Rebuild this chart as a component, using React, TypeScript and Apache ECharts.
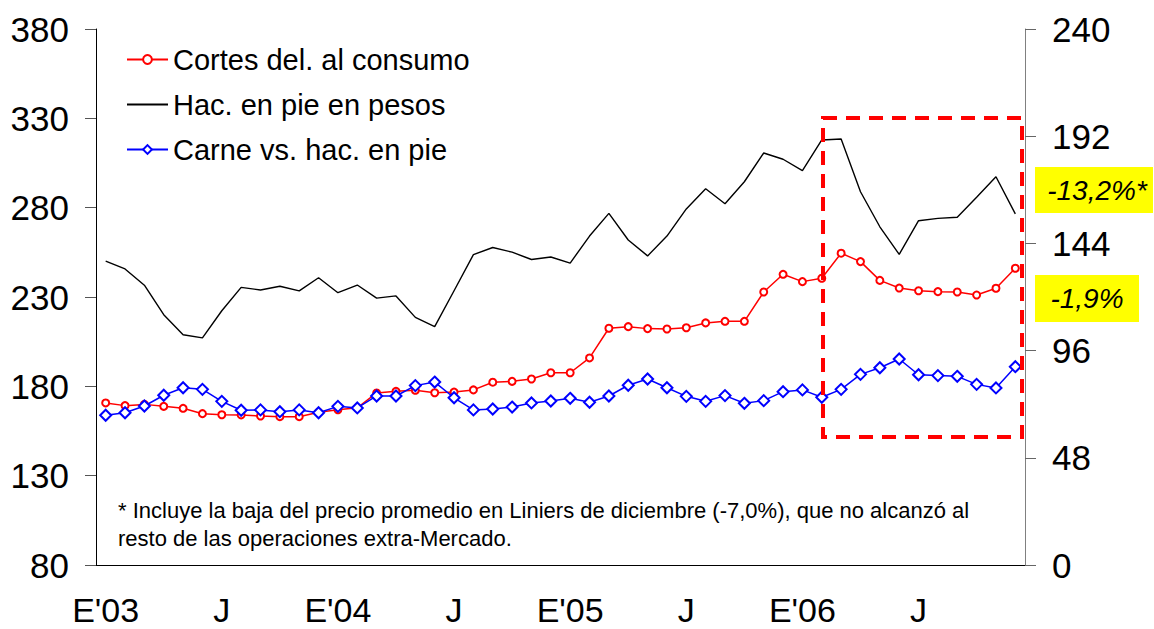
import React, { useEffect, useRef } from "react";
import * as echarts from "echarts";

const years = ["03", "04", "05", "06"];
const monthInitials = ["E", "F", "M", "A", "M", "J", "J", "A", "S", "O", "N", "D"];
const categories: string[] = [];
years.forEach((y) =>
  monthInitials.forEach((m, i) => categories.push(i === 0 ? `E'${y}` : m))
);

const cortes = [
  170.7, 169.2, 169.9, 168.8, 167.7, 164.7, 164.1, 164.0, 163.4, 163.0, 163.0, 165.5,
  166.9, 168.0, 176.3, 177.2, 177.8, 176.4, 176.8, 178.0, 182.3, 182.8, 184.1, 187.6,
  187.6, 195.9, 212.5, 213.4, 212.3, 212.1, 212.8, 215.5, 216.4, 216.4, 232.8, 242.7,
  238.6, 240.5, 254.5, 249.8, 239.3, 235.0, 233.5, 233.0, 232.8, 231.1, 234.9, 246.1,
];
const hacienda = [
  250.1, 245.7, 236.6, 220.1, 208.9, 207.1, 222.3, 235.4, 233.9, 236.0, 233.4, 240.8,
  232.4, 236.7, 229.4, 230.6, 218.6, 213.4, 233.5, 253.7, 257.7, 255.1, 251.0, 252.4,
  249.0, 264.1, 276.8, 261.9, 253.0, 264.1, 279.3, 290.6, 282.2, 294.5, 310.6, 307.1,
  300.7, 317.9, 318.4, 288.9, 269.3, 253.9, 272.7, 274.0, 274.6, 285.8, 297.3, 276.5,
];
const carneVsHac = [
  163.8, 165.2, 169.0, 175.0, 179.2, 178.3, 171.6, 166.6, 166.8, 165.8, 166.8, 165.2,
  168.8, 167.9, 174.6, 174.6, 180.4, 182.4, 173.6, 166.8, 167.3, 168.4, 170.7, 171.8,
  173.3, 171.1, 174.6, 180.6, 184.1, 179.2, 174.4, 171.6, 174.8, 170.5, 172.0, 177.0,
  178.0, 173.9, 178.3, 186.7, 190.4, 195.3, 186.5, 186.0, 185.6, 181.1, 179.1, 191.0,
];

const seriesNames = ["Cortes del. al consumo", "Hac. en pie en pesos", "Carne vs. hac. en pie"];
const badgeTexts = ["-13,2%*", "-1,9%"];
const footnoteLines = [
  "* Incluye la baja del precio promedio en Liniers de diciembre (-7,0%), que no alcanzó al",
  "resto de las operaciones extra-Mercado.",
];

const FONT = "'Liberation Sans', Arial, Helvetica, sans-serif";

export default function App() {
  const ref = useRef<HTMLDivElement>(null);
  useEffect(() => {
    document.body.style.margin = "0";
    if (!ref.current) return;
    const chart = echarts.init(ref.current, undefined, { renderer: "svg" });
    chart.setOption({
      animation: false,
      backgroundColor: "#ffffff",
      textStyle: { fontFamily: FONT },
      grid: { left: 96, right: 129, top: 29, bottom: 64 },
      legend: {
        orient: "vertical",
        left: 121,
        top: 40,
        itemWidth: 41,
        itemHeight: 11,
        itemGap: 16,
        textStyle: { fontSize: 29, color: "#000", fontFamily: FONT },
        data: [
          { name: seriesNames[0] },
          { name: seriesNames[1], itemStyle: { opacity: 0 } },
          { name: seriesNames[2] },
        ],
      },
      xAxis: {
        type: "category",
        data: categories,
        boundaryGap: true,
        axisLine: { lineStyle: { color: "#000", width: 1 } },
        axisTick: { interval: 2, length: 11, lineStyle: { color: "#000" } },
        axisLabel: {
          interval: 5,
          fontSize: 34,
          lineHeight: 30,
          color: "#000",
          margin: 30,
          fontFamily: FONT,
        },
        splitLine: { show: false },
      },
      yAxis: [
        {
          type: "value",
          min: 80,
          max: 380,
          interval: 50,
          position: "left",
          axisLine: { show: true, lineStyle: { color: "#000", width: 1 } },
          axisTick: { show: true, length: 11, lineStyle: { color: "#555" } },
          axisLabel: { fontSize: 35, color: "#000", margin: 27, fontFamily: FONT },
          splitLine: { show: false },
        },
        {
          type: "value",
          min: 0,
          max: 240,
          interval: 48,
          position: "right",
          axisLine: { show: true, lineStyle: { color: "#808080", width: 1 } },
          axisTick: { show: true, length: 11, lineStyle: { color: "#666" } },
          axisLabel: { fontSize: 35, color: "#000", margin: 27, fontFamily: FONT },
          splitLine: { show: false },
        },
      ],
      series: [
        {
          name: seriesNames[0],
          type: "line",
          data: cortes,
          yAxisIndex: 0,
          symbol: "emptyCircle",
          symbolSize: 7,
          lineStyle: { color: "#ff0000", width: 1.5 },
          itemStyle: { color: "#ff0000", borderWidth: 1.5 },
          z: 3,
        },
        {
          name: seriesNames[1],
          type: "line",
          data: hacienda,
          yAxisIndex: 0,
          symbol: "none",
          lineStyle: { color: "#000000", width: 1.4 },
          itemStyle: { color: "#000000" },
          z: 2,
        },
        {
          name: seriesNames[2],
          type: "line",
          data: carneVsHac,
          yAxisIndex: 0,
          symbol: "emptyDiamond",
          symbolSize: 11,
          lineStyle: { color: "#0000ff", width: 1.5 },
          itemStyle: { color: "#0000ff", borderWidth: 1.5 },
          z: 4,
        },
      ],
      graphic: [
        {
          type: "rect",
          shape: { x: 823, y: 118, width: 199, height: 319 },
          style: { fill: "none", stroke: "#ff0000", lineWidth: 4, lineDash: [14, 9] },
          z: 10,
        },
        {
          type: "rect",
          shape: { x: 1035, y: 167, width: 118, height: 46 },
          style: { fill: "#ffff00" },
          z: 10,
        },
        {
          type: "text",
          x: 1097,
          y: 190,
          style: {
            text: badgeTexts[0],
            fontSize: 28,
            fontStyle: "italic",
            fontFamily: FONT,
            fill: "#000",
            align: "center",
            verticalAlign: "middle",
          },
          z: 11,
        },
        {
          type: "rect",
          shape: { x: 1035, y: 275, width: 104, height: 47 },
          style: { fill: "#ffff00" },
          z: 10,
        },
        {
          type: "text",
          x: 1087,
          y: 298,
          style: {
            text: badgeTexts[1],
            fontSize: 28,
            fontStyle: "italic",
            fontFamily: FONT,
            fill: "#000",
            align: "center",
            verticalAlign: "middle",
          },
          z: 11,
        },
        {
          type: "text",
          x: 118,
          y: 510,
          style: {
            text: footnoteLines[0],
            fontSize: 22,
            fontFamily: FONT,
            fill: "#000",
            align: "left",
            verticalAlign: "middle",
          },
          z: 11,
        },
        {
          type: "text",
          x: 118,
          y: 538,
          style: {
            text: footnoteLines[1],
            fontSize: 22,
            fontFamily: FONT,
            fill: "#000",
            align: "left",
            verticalAlign: "middle",
          },
          z: 11,
        },
      ],
    });
    return () => chart.dispose();
  }, []);
  return <div ref={ref} style={{ width: 1154, height: 629 }} />;
}
